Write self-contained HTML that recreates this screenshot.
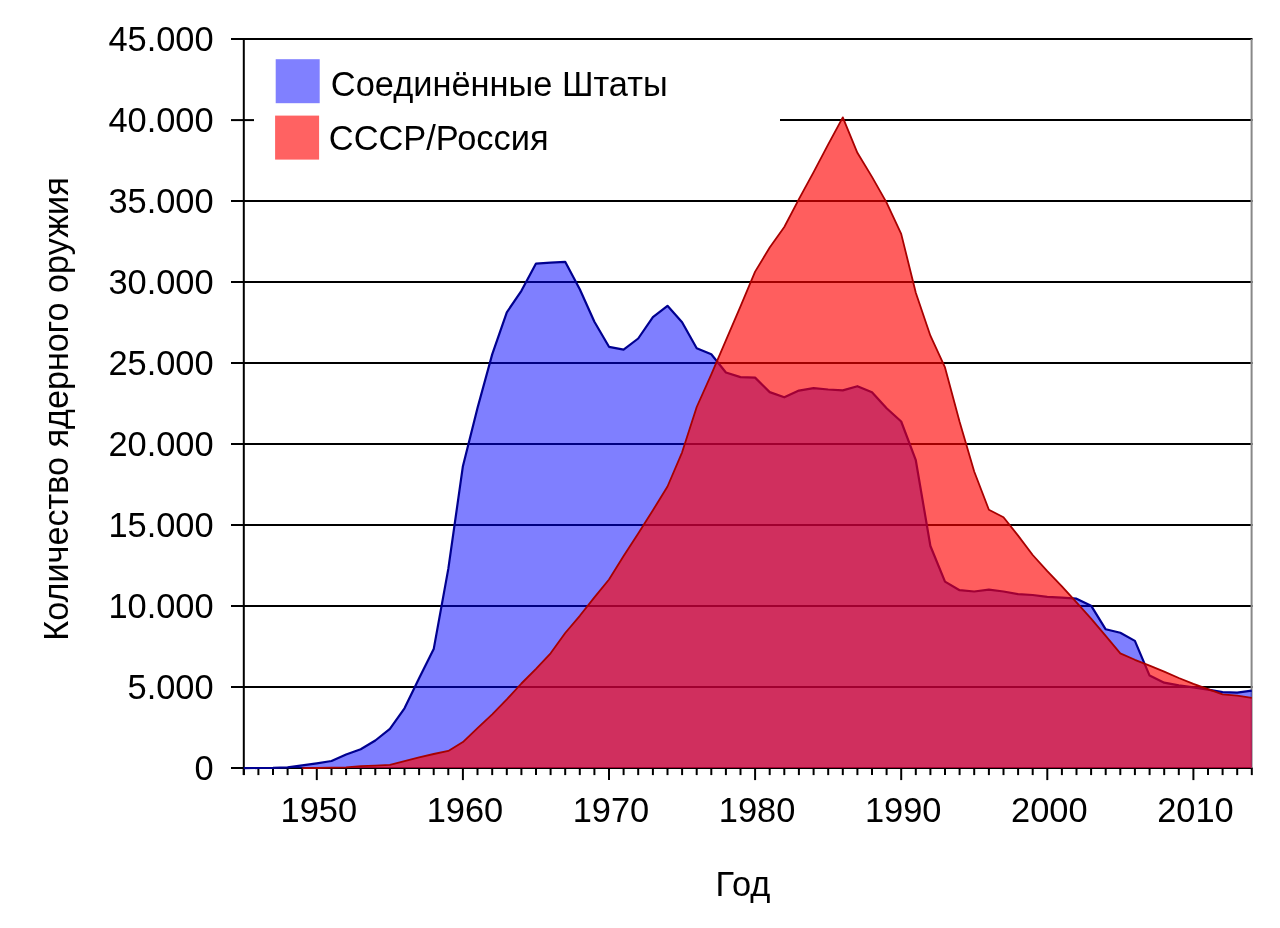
<!DOCTYPE html>
<html><head><meta charset="utf-8"><style>
html,body{margin:0;padding:0;background:#fff;}
svg{display:block;}
text{font-family:"Liberation Sans", sans-serif;fill:#000;letter-spacing:0;}
svg{will-change:transform;}
</style></head><body>
<svg width="1280" height="928" viewBox="0 0 1280 928">
<rect width="1280" height="928" fill="#fff"/>
<line x1="231" y1="768.1" x2="1252.5" y2="768.1" stroke="#000" stroke-width="2"/>
<text x="213.6" y="780.2" text-anchor="end" font-size="34.4">0</text>
<line x1="231" y1="687.1" x2="1252.5" y2="687.1" stroke="#000" stroke-width="2"/>
<text x="213.6" y="699.2" text-anchor="end" font-size="34.4">5.000</text>
<line x1="231" y1="606.1" x2="1252.5" y2="606.1" stroke="#000" stroke-width="2"/>
<text x="213.6" y="618.2" text-anchor="end" font-size="34.4">10.000</text>
<line x1="231" y1="525.1" x2="1252.5" y2="525.1" stroke="#000" stroke-width="2"/>
<text x="213.6" y="537.2" text-anchor="end" font-size="34.4">15.000</text>
<line x1="231" y1="444.1" x2="1252.5" y2="444.1" stroke="#000" stroke-width="2"/>
<text x="213.6" y="456.2" text-anchor="end" font-size="34.4">20.000</text>
<line x1="231" y1="363.1" x2="1252.5" y2="363.1" stroke="#000" stroke-width="2"/>
<text x="213.6" y="375.2" text-anchor="end" font-size="34.4">25.000</text>
<line x1="231" y1="282.1" x2="1252.5" y2="282.1" stroke="#000" stroke-width="2"/>
<text x="213.6" y="294.2" text-anchor="end" font-size="34.4">30.000</text>
<line x1="231" y1="201.1" x2="1252.5" y2="201.1" stroke="#000" stroke-width="2"/>
<text x="213.6" y="213.2" text-anchor="end" font-size="34.4">35.000</text>
<line x1="231" y1="120.1" x2="254" y2="120.1" stroke="#000" stroke-width="2"/>
<line x1="780" y1="120.1" x2="1252.5" y2="120.1" stroke="#000" stroke-width="2"/>
<text x="213.6" y="132.2" text-anchor="end" font-size="34.4">40.000</text>
<line x1="231" y1="39.1" x2="1252.5" y2="39.1" stroke="#000" stroke-width="2"/>
<text x="213.6" y="51.2" text-anchor="end" font-size="34.4">45.000</text>
<line x1="243.8" y1="38.2" x2="243.8" y2="775.1" stroke="#000" stroke-width="2"/>
<line x1="1251.6" y1="39" x2="1251.6" y2="768.1" stroke="#888" stroke-width="2"/>
<line x1="243.8" y1="768.1" x2="243.8" y2="775.1" stroke="#000" stroke-width="2"/>
<line x1="258.4" y1="768.1" x2="258.4" y2="775.1" stroke="#000" stroke-width="2"/>
<line x1="273.0" y1="768.1" x2="273.0" y2="775.1" stroke="#000" stroke-width="2"/>
<line x1="287.6" y1="768.1" x2="287.6" y2="775.1" stroke="#000" stroke-width="2"/>
<line x1="302.2" y1="768.1" x2="302.2" y2="775.1" stroke="#000" stroke-width="2"/>
<line x1="316.8" y1="768.1" x2="316.8" y2="780.1" stroke="#000" stroke-width="2"/>
<text x="318.8" y="822.1" text-anchor="middle" font-size="34.4">1950</text>
<line x1="331.5" y1="768.1" x2="331.5" y2="775.1" stroke="#000" stroke-width="2"/>
<line x1="346.1" y1="768.1" x2="346.1" y2="775.1" stroke="#000" stroke-width="2"/>
<line x1="360.7" y1="768.1" x2="360.7" y2="775.1" stroke="#000" stroke-width="2"/>
<line x1="375.3" y1="768.1" x2="375.3" y2="775.1" stroke="#000" stroke-width="2"/>
<line x1="389.9" y1="768.1" x2="389.9" y2="775.1" stroke="#000" stroke-width="2"/>
<line x1="404.5" y1="768.1" x2="404.5" y2="775.1" stroke="#000" stroke-width="2"/>
<line x1="419.1" y1="768.1" x2="419.1" y2="775.1" stroke="#000" stroke-width="2"/>
<line x1="433.7" y1="768.1" x2="433.7" y2="775.1" stroke="#000" stroke-width="2"/>
<line x1="448.3" y1="768.1" x2="448.3" y2="775.1" stroke="#000" stroke-width="2"/>
<line x1="462.9" y1="768.1" x2="462.9" y2="780.1" stroke="#000" stroke-width="2"/>
<text x="464.9" y="822.1" text-anchor="middle" font-size="34.4">1960</text>
<line x1="477.5" y1="768.1" x2="477.5" y2="775.1" stroke="#000" stroke-width="2"/>
<line x1="492.2" y1="768.1" x2="492.2" y2="775.1" stroke="#000" stroke-width="2"/>
<line x1="506.8" y1="768.1" x2="506.8" y2="775.1" stroke="#000" stroke-width="2"/>
<line x1="521.4" y1="768.1" x2="521.4" y2="775.1" stroke="#000" stroke-width="2"/>
<line x1="536.0" y1="768.1" x2="536.0" y2="775.1" stroke="#000" stroke-width="2"/>
<line x1="550.6" y1="768.1" x2="550.6" y2="775.1" stroke="#000" stroke-width="2"/>
<line x1="565.2" y1="768.1" x2="565.2" y2="775.1" stroke="#000" stroke-width="2"/>
<line x1="579.8" y1="768.1" x2="579.8" y2="775.1" stroke="#000" stroke-width="2"/>
<line x1="594.4" y1="768.1" x2="594.4" y2="775.1" stroke="#000" stroke-width="2"/>
<line x1="609.0" y1="768.1" x2="609.0" y2="780.1" stroke="#000" stroke-width="2"/>
<text x="611.0" y="822.1" text-anchor="middle" font-size="34.4">1970</text>
<line x1="623.6" y1="768.1" x2="623.6" y2="775.1" stroke="#000" stroke-width="2"/>
<line x1="638.2" y1="768.1" x2="638.2" y2="775.1" stroke="#000" stroke-width="2"/>
<line x1="652.9" y1="768.1" x2="652.9" y2="775.1" stroke="#000" stroke-width="2"/>
<line x1="667.5" y1="768.1" x2="667.5" y2="775.1" stroke="#000" stroke-width="2"/>
<line x1="682.1" y1="768.1" x2="682.1" y2="775.1" stroke="#000" stroke-width="2"/>
<line x1="696.7" y1="768.1" x2="696.7" y2="775.1" stroke="#000" stroke-width="2"/>
<line x1="711.3" y1="768.1" x2="711.3" y2="775.1" stroke="#000" stroke-width="2"/>
<line x1="725.9" y1="768.1" x2="725.9" y2="775.1" stroke="#000" stroke-width="2"/>
<line x1="740.5" y1="768.1" x2="740.5" y2="775.1" stroke="#000" stroke-width="2"/>
<line x1="755.1" y1="768.1" x2="755.1" y2="780.1" stroke="#000" stroke-width="2"/>
<text x="757.1" y="822.1" text-anchor="middle" font-size="34.4">1980</text>
<line x1="769.7" y1="768.1" x2="769.7" y2="775.1" stroke="#000" stroke-width="2"/>
<line x1="784.3" y1="768.1" x2="784.3" y2="775.1" stroke="#000" stroke-width="2"/>
<line x1="798.9" y1="768.1" x2="798.9" y2="775.1" stroke="#000" stroke-width="2"/>
<line x1="813.6" y1="768.1" x2="813.6" y2="775.1" stroke="#000" stroke-width="2"/>
<line x1="828.2" y1="768.1" x2="828.2" y2="775.1" stroke="#000" stroke-width="2"/>
<line x1="842.8" y1="768.1" x2="842.8" y2="775.1" stroke="#000" stroke-width="2"/>
<line x1="857.4" y1="768.1" x2="857.4" y2="775.1" stroke="#000" stroke-width="2"/>
<line x1="872.0" y1="768.1" x2="872.0" y2="775.1" stroke="#000" stroke-width="2"/>
<line x1="886.6" y1="768.1" x2="886.6" y2="775.1" stroke="#000" stroke-width="2"/>
<line x1="901.2" y1="768.1" x2="901.2" y2="780.1" stroke="#000" stroke-width="2"/>
<text x="903.2" y="822.1" text-anchor="middle" font-size="34.4">1990</text>
<line x1="915.8" y1="768.1" x2="915.8" y2="775.1" stroke="#000" stroke-width="2"/>
<line x1="930.4" y1="768.1" x2="930.4" y2="775.1" stroke="#000" stroke-width="2"/>
<line x1="945.0" y1="768.1" x2="945.0" y2="775.1" stroke="#000" stroke-width="2"/>
<line x1="959.6" y1="768.1" x2="959.6" y2="775.1" stroke="#000" stroke-width="2"/>
<line x1="974.2" y1="768.1" x2="974.2" y2="775.1" stroke="#000" stroke-width="2"/>
<line x1="988.9" y1="768.1" x2="988.9" y2="775.1" stroke="#000" stroke-width="2"/>
<line x1="1003.5" y1="768.1" x2="1003.5" y2="775.1" stroke="#000" stroke-width="2"/>
<line x1="1018.1" y1="768.1" x2="1018.1" y2="775.1" stroke="#000" stroke-width="2"/>
<line x1="1032.7" y1="768.1" x2="1032.7" y2="775.1" stroke="#000" stroke-width="2"/>
<line x1="1047.3" y1="768.1" x2="1047.3" y2="780.1" stroke="#000" stroke-width="2"/>
<text x="1049.3" y="822.1" text-anchor="middle" font-size="34.4">2000</text>
<line x1="1061.9" y1="768.1" x2="1061.9" y2="775.1" stroke="#000" stroke-width="2"/>
<line x1="1076.5" y1="768.1" x2="1076.5" y2="775.1" stroke="#000" stroke-width="2"/>
<line x1="1091.1" y1="768.1" x2="1091.1" y2="775.1" stroke="#000" stroke-width="2"/>
<line x1="1105.7" y1="768.1" x2="1105.7" y2="775.1" stroke="#000" stroke-width="2"/>
<line x1="1120.3" y1="768.1" x2="1120.3" y2="775.1" stroke="#000" stroke-width="2"/>
<line x1="1134.9" y1="768.1" x2="1134.9" y2="775.1" stroke="#000" stroke-width="2"/>
<line x1="1149.6" y1="768.1" x2="1149.6" y2="775.1" stroke="#000" stroke-width="2"/>
<line x1="1164.2" y1="768.1" x2="1164.2" y2="775.1" stroke="#000" stroke-width="2"/>
<line x1="1178.8" y1="768.1" x2="1178.8" y2="775.1" stroke="#000" stroke-width="2"/>
<line x1="1193.4" y1="768.1" x2="1193.4" y2="780.1" stroke="#000" stroke-width="2"/>
<text x="1195.4" y="822.1" text-anchor="middle" font-size="34.4">2010</text>
<line x1="1208.0" y1="768.1" x2="1208.0" y2="775.1" stroke="#000" stroke-width="2"/>
<line x1="1222.6" y1="768.1" x2="1222.6" y2="775.1" stroke="#000" stroke-width="2"/>
<line x1="1237.2" y1="768.1" x2="1237.2" y2="775.1" stroke="#000" stroke-width="2"/>
<line x1="1251.8" y1="768.1" x2="1251.8" y2="775.1" stroke="#000" stroke-width="2"/>
<path d="M243.8,768.1 L243.8,768.1 258.4,768.0 273.0,767.9 287.6,767.3 302.2,765.3 316.8,763.3 331.5,761.0 346.1,754.5 360.7,749.2 375.3,740.5 389.9,728.9 404.5,708.3 419.1,678.3 433.7,649.1 448.3,568.9 462.9,466.2 477.5,408.0 492.2,354.4 506.8,312.3 521.4,290.8 536.0,263.6 550.6,262.7 565.2,261.8 579.8,289.2 594.4,321.8 609.0,346.8 623.6,349.7 638.2,338.5 652.9,317.2 667.5,305.8 682.1,322.3 696.7,348.3 711.3,354.3 725.9,372.5 740.5,377.1 755.1,377.6 769.7,392.1 784.3,397.3 798.9,390.6 813.6,388.1 828.2,389.5 842.8,390.4 857.4,386.2 872.0,392.2 886.6,408.2 901.2,421.5 915.8,460.2 930.4,546.0 945.0,581.6 959.6,590.2 974.2,591.5 988.9,589.7 1003.5,591.5 1018.1,594.2 1032.7,595.0 1047.3,596.8 1061.9,597.6 1076.5,598.7 1091.1,605.7 1105.7,629.3 1120.3,632.7 1134.9,640.9 1149.6,675.6 1164.2,682.7 1178.8,685.3 1193.4,687.4 1208.0,689.7 1222.6,692.1 1237.2,692.7 1251.8,690.7 L1251.8,768.1 Z" fill="#0000ff" fill-opacity="0.5"/>
<polyline points="243.8,768.1 258.4,768.0 273.0,767.9 287.6,767.3 302.2,765.3 316.8,763.3 331.5,761.0 346.1,754.5 360.7,749.2 375.3,740.5 389.9,728.9 404.5,708.3 419.1,678.3 433.7,649.1 448.3,568.9 462.9,466.2 477.5,408.0 492.2,354.4 506.8,312.3 521.4,290.8 536.0,263.6 550.6,262.7 565.2,261.8 579.8,289.2 594.4,321.8 609.0,346.8 623.6,349.7 638.2,338.5 652.9,317.2 667.5,305.8 682.1,322.3 696.7,348.3 711.3,354.3 725.9,372.5 740.5,377.1 755.1,377.6 769.7,392.1 784.3,397.3 798.9,390.6 813.6,388.1 828.2,389.5 842.8,390.4 857.4,386.2 872.0,392.2 886.6,408.2 901.2,421.5 915.8,460.2 930.4,546.0 945.0,581.6 959.6,590.2 974.2,591.5 988.9,589.7 1003.5,591.5 1018.1,594.2 1032.7,595.0 1047.3,596.8 1061.9,597.6 1076.5,598.7 1091.1,605.7 1105.7,629.3 1120.3,632.7 1134.9,640.9 1149.6,675.6 1164.2,682.7 1178.8,685.3 1193.4,687.4 1208.0,689.7 1222.6,692.1 1237.2,692.7 1251.8,690.7" fill="none" stroke="#000090" stroke-width="2.2" stroke-linejoin="round"/>
<path d="M243.8,768.1 L243.8,768.1 258.4,768.1 273.0,768.1 287.6,768.1 302.2,768.1 316.8,768.0 331.5,767.7 346.1,767.3 360.7,766.2 375.3,765.7 389.9,764.9 404.5,761.2 419.1,757.4 433.7,754.0 448.3,750.9 462.9,742.1 477.5,728.1 492.2,714.3 506.8,699.4 521.4,683.5 536.0,668.8 550.6,653.3 565.2,633.0 579.8,615.8 594.4,597.4 609.0,579.5 623.6,556.0 638.2,533.6 652.9,510.3 667.5,486.5 682.1,452.3 696.7,407.0 711.3,374.4 725.9,340.4 740.5,306.4 755.1,271.6 769.7,247.5 784.3,227.0 798.9,199.1 813.6,172.1 828.2,144.4 842.8,117.4 857.4,152.8 872.0,176.9 886.6,202.6 901.2,233.9 915.8,292.8 930.4,335.7 945.0,367.4 959.6,421.7 974.2,471.5 988.9,509.7 1003.5,517.3 1018.1,535.6 1032.7,555.0 1047.3,571.2 1061.9,586.3 1076.5,602.4 1091.1,618.6 1105.7,635.8 1120.3,653.4 1134.9,659.8 1149.6,665.7 1164.2,671.6 1178.8,678.0 1193.4,683.9 1208.0,689.1 1222.6,694.4 1237.2,695.6 1251.8,697.9 L1251.8,768.1 Z" fill="#ff0000" fill-opacity="0.63"/>
<polyline points="302.2,768.1 316.8,768.0 331.5,767.7 346.1,767.3 360.7,766.2 375.3,765.7 389.9,764.9 404.5,761.2 419.1,757.4 433.7,754.0 448.3,750.9 462.9,742.1 477.5,728.1 492.2,714.3 506.8,699.4 521.4,683.5 536.0,668.8 550.6,653.3 565.2,633.0 579.8,615.8 594.4,597.4 609.0,579.5 623.6,556.0 638.2,533.6 652.9,510.3 667.5,486.5 682.1,452.3 696.7,407.0 711.3,374.4 725.9,340.4 740.5,306.4 755.1,271.6 769.7,247.5 784.3,227.0 798.9,199.1 813.6,172.1 828.2,144.4 842.8,117.4 857.4,152.8 872.0,176.9 886.6,202.6 901.2,233.9 915.8,292.8 930.4,335.7 945.0,367.4 959.6,421.7 974.2,471.5 988.9,509.7 1003.5,517.3 1018.1,535.6 1032.7,555.0 1047.3,571.2 1061.9,586.3 1076.5,602.4 1091.1,618.6 1105.7,635.8 1120.3,653.4 1134.9,659.8 1149.6,665.7 1164.2,671.6 1178.8,678.0 1193.4,683.9 1208.0,689.1 1222.6,694.4 1237.2,695.6 1251.8,697.9" fill="none" stroke="#a80000" stroke-width="1.8" stroke-linejoin="round"/>
<rect x="275.7" y="59.2" width="44" height="44" fill="#8080ff"/>
<rect x="275.1" y="115.6" width="44" height="44" fill="#ff6262"/>
<text x="330.8" y="96.3" font-size="34.4">Соединённые Штаты</text>
<text x="328.8" y="150.1" font-size="34.4">СССР/Россия</text>
<text x="743" y="895.7" text-anchor="middle" font-size="34.4">Год</text>
<text transform="translate(68.2,409) rotate(-90)" text-anchor="middle" font-size="34.2">Количество ядерного оружия</text>
</svg>
</body></html>
